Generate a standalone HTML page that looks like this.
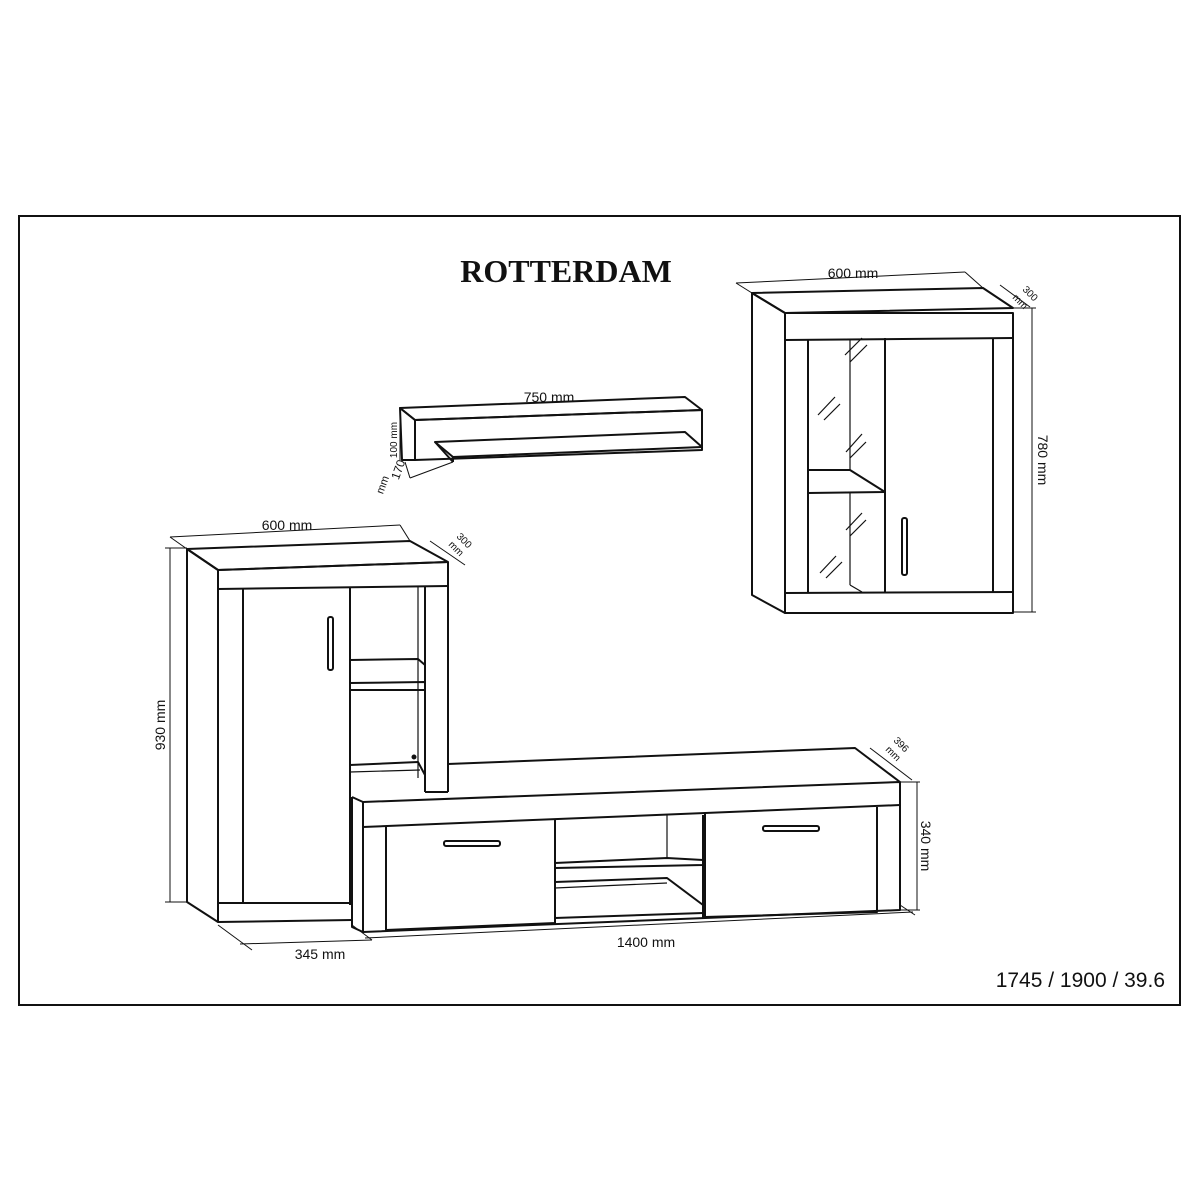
<!DOCTYPE html>
<html><head><meta charset="utf-8"><style>
html,body{margin:0;padding:0;background:#fff;}
svg{display:block}
text{font-family:"Liberation Sans",sans-serif;fill:#111}
</style></head><body>
<svg width="1200" height="1200" viewBox="0 0 1200 1200" xmlns="http://www.w3.org/2000/svg">
<rect x="19" y="216" width="1161" height="789" fill="none" stroke="#111" stroke-width="2"/>
<text x="566" y="282" text-anchor="middle" style="font-family:'Liberation Serif',serif;font-weight:bold;font-size:32px">ROTTERDAM</text>

<g fill="none" stroke="#111" stroke-width="2" stroke-linejoin="round">
<!-- Wall cabinet -->
<polygon points="752,293 983,288 1013,308 785,313" />
<polygon points="752,293 785,313 785,613 752,595" />
<rect x="785" y="313" width="228" height="300"/>
<line x1="785" y1="340" x2="1013" y2="338"/>
<line x1="808" y1="340" x2="808" y2="593"/>
<line x1="885" y1="338" x2="885" y2="593"/>
<line x1="993" y1="338" x2="993" y2="593"/>
<line x1="785" y1="593" x2="1013" y2="592"/>
<line x1="850" y1="340" x2="850" y2="470" stroke-width="1.2"/>
<line x1="850" y1="493" x2="850" y2="585" stroke-width="1.2"/>
<polyline points="808,470 850,470 885,492 808,493"/>
<line x1="850" y1="585" x2="862" y2="592" stroke-width="1.2"/>
<rect x="902" y="518" width="5" height="57" rx="2"/>
<g stroke-width="1.2">
<line x1="845" y1="355" x2="862" y2="338"/><line x1="850" y1="362" x2="867" y2="345"/>
<line x1="818" y1="415" x2="835" y2="397"/><line x1="824" y1="420" x2="840" y2="404"/>
<line x1="846" y1="452" x2="862" y2="434"/><line x1="850" y1="458" x2="866" y2="442"/>
<line x1="846" y1="530" x2="862" y2="513"/><line x1="850" y1="536" x2="866" y2="520"/>
<line x1="820" y1="573" x2="836" y2="556"/><line x1="826" y1="578" x2="842" y2="562"/>
</g>
<g stroke-width="1">
<line x1="736" y1="283" x2="965" y2="272"/>
<line x1="736" y1="283" x2="752" y2="293"/><line x1="965" y1="272" x2="983" y2="288"/>
<line x1="1000" y1="285" x2="1030" y2="307"/>
<line x1="1032" y1="308" x2="1032" y2="612"/>
<line x1="1013" y1="308" x2="1036" y2="308"/><line x1="1013" y1="612" x2="1036" y2="612"/>
</g>

<!-- Shelf -->
<polygon points="400,408 685,397 702,410 415,420"/>
<polygon points="400,408 415,420 415,460 402,460"/>
<polygon points="415,420 702,410 702,450 415,460"/>
<polygon points="435,442 685,432 702,447 453,457"/>
<line x1="453" y1="457" x2="453" y2="462"/>
<line x1="435" y1="442" x2="453" y2="462"/>
<g stroke-width="1">
<line x1="400" y1="420" x2="400" y2="460"/>
<line x1="405" y1="462" x2="410" y2="478"/>
<line x1="410" y1="478" x2="453" y2="462"/>
</g>

<!-- Tall cabinet -->
<polygon points="187,549 410,541 448,562 218,570"/>
<polygon points="187,549 218,570 218,922 187,902"/>
<line x1="218" y1="570" x2="448" y2="562"/>
<line x1="448" y1="562" x2="448" y2="792"/>
<line x1="218" y1="589" x2="448" y2="586"/>
<line x1="243" y1="589" x2="243" y2="903"/>
<line x1="350" y1="588" x2="350" y2="905"/>
<line x1="425" y1="587" x2="425" y2="792"/>
<line x1="425" y1="792" x2="448" y2="792"/>
<line x1="418" y1="587" x2="418" y2="778" stroke-width="1.2"/>
<polyline points="350,660 418,659 425,665"/>
<polyline points="350,683 425,682 425,690 350,690"/>
<polyline points="350,765 418,762 425,775"/>
<line x1="350" y1="772" x2="420" y2="770" stroke-width="1.2"/>
<line x1="218" y1="903" x2="350" y2="903"/>
<line x1="218" y1="922" x2="352" y2="920"/>
<rect x="328" y="617" width="5" height="53" rx="2"/>
<circle cx="414" cy="757" r="1.5" fill="#111"/>
<g stroke-width="1">
<line x1="170" y1="548" x2="170" y2="902"/>
<line x1="165" y1="548" x2="187" y2="548"/><line x1="165" y1="902" x2="187" y2="902"/>
<line x1="170" y1="537" x2="400" y2="525"/>
<line x1="170" y1="537" x2="187" y2="549"/><line x1="400" y1="525" x2="410" y2="541"/>
<line x1="430" y1="541" x2="465" y2="565"/>
<line x1="218" y1="925" x2="252" y2="950"/>
<line x1="240" y1="944" x2="372" y2="940"/>
</g>

<!-- TV stand -->
<polyline points="448,764 855,748 900,782"/>
<polyline points="352,797 363,802 363,932 352,927 352,797"/>
<polygon points="363,802 900,782 900,910 363,932"/>
<line x1="363" y1="827" x2="900" y2="805"/>
<polyline points="386,827 386,930 555,923 555,820"/>
<polyline points="705,813 705,917 877,912 877,807"/>
<line x1="555" y1="823" x2="555" y2="924"/>
<line x1="703" y1="815" x2="703" y2="918"/>
<line x1="667" y1="814" x2="667" y2="858" stroke-width="1.2"/>
<polyline points="555,863 667,858 703,860 703,865 555,868"/>
<polyline points="555,882 667,878 703,905"/>
<line x1="555" y1="888" x2="667" y2="883" stroke-width="1.2"/>
<line x1="555" y1="918" x2="703" y2="913"/>
<rect x="444" y="841" width="56" height="5" rx="2"/>
<rect x="763" y="826" width="56" height="5" rx="2"/>
<g stroke-width="1">
<line x1="917" y1="782" x2="917" y2="910"/>
<line x1="900" y1="782" x2="920" y2="782"/><line x1="900" y1="910" x2="920" y2="910"/>
<line x1="870" y1="748" x2="912" y2="780"/>
<line x1="365" y1="938" x2="913" y2="912"/>
<line x1="352" y1="925" x2="372" y2="940"/><line x1="900" y1="905" x2="915" y2="915"/>
</g>
</g>

<!-- labels -->
<text x="853" y="278" text-anchor="middle" font-size="14">600 mm</text>
<text transform="translate(1022,290) rotate(45)" font-size="10">300</text>
<text transform="translate(1012,298) rotate(45)" font-size="10">mm</text>
<text transform="translate(1038,460) rotate(90)" text-anchor="middle" font-size="14">780 mm</text>
<text x="549" y="402" text-anchor="middle" font-size="14">750 mm</text>
<text transform="translate(397,440) rotate(-90)" text-anchor="middle" font-size="10">100 mm</text>
<text transform="translate(402,471) rotate(-70)" text-anchor="middle" font-size="12">170</text>
<text transform="translate(386,486) rotate(-70)" text-anchor="middle" font-size="11">mm</text>
<text x="287" y="530" text-anchor="middle" font-size="14">600 mm</text>
<text transform="translate(456,537) rotate(45)" font-size="10">300</text>
<text transform="translate(448,545) rotate(45)" font-size="10">mm</text>
<text transform="translate(165,725) rotate(-90)" text-anchor="middle" font-size="14">930 mm</text>
<text x="320" y="959" text-anchor="middle" font-size="14">345 mm</text>
<text transform="translate(893,741) rotate(45)" font-size="10">396</text>
<text transform="translate(885,750) rotate(45)" font-size="10">mm</text>
<text transform="translate(921,846) rotate(90)" text-anchor="middle" font-size="14">340 mm</text>
<text x="646" y="947" text-anchor="middle" font-size="14">1400 mm</text>
<text x="1165" y="987" text-anchor="end" font-size="21">1745 / 1900 / 39.6</text>
</svg>
</body></html>
